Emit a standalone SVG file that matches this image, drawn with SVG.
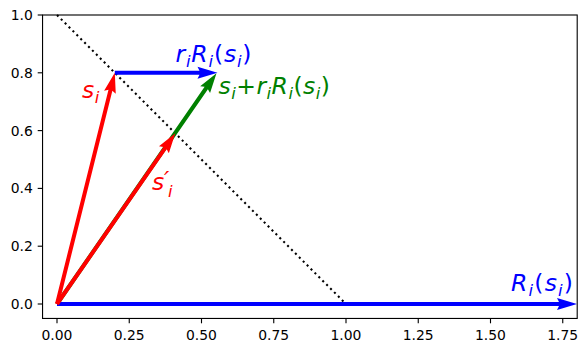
<svg xmlns="http://www.w3.org/2000/svg" width="588" height="352" viewBox="0 0 588 352">
<style>
.tick{stroke:#000;stroke-width:1.11}
.tl{font-family:"DejaVu Sans",sans-serif;font-size:13.9px;fill:#000}
.lbl{font-family:"DejaVu Sans",sans-serif;font-size:23.5px;font-style:italic}
.sub{font-size:16.5px}
.up{font-style:normal}
.red{fill:#ff0000}
.blue{fill:#0000ff}
.green{fill:#008000}
</style>
<rect width="588" height="352" fill="#ffffff"/>
<g id="guide">
<line x1="57" y1="15" x2="346" y2="304" stroke="#000" stroke-width="2.08" stroke-dasharray="2.08 3.44"/>
</g>
<g id="connectors">
<polygon id="v-sum" class="green" points="55.36,302.86 204.62,86.86 200.18,86.23 216.5,73.2 210.06,93.05 207.91,89.14 58.65,305.14"/>
<polygon id="v-rR" class="blue" points="114.8,70.7 199.5,70.7 197.5,66.7 217.5,72.7 197.5,78.7 199.5,74.7 114.8,74.7"/>
<polygon id="v-R" class="blue" points="57,302 559,302 557,298 577,304 557,310 559,306 57,306"/>
<polygon id="v-sp" class="red" points="55.36,302.86 163.41,146.95 158.98,146.32 175.3,133.3 168.84,153.16 166.69,149.23 58.64,305.14"/>
<polygon id="v-s" class="red" points="55.06,303.52 108.49,89.80 104.12,90.77 114.8,72.8 115.76,93.68 112.37,90.77 58.94,304.49"/>
</g>
<g id="axes">
<rect x="42.55" y="15" width="534.65" height="303.45" fill="none" stroke="#000" stroke-width="1.11"/>
<g class="tick">
<line x1="57" y1="318.45" x2="57" y2="323.3"/>
<line x1="129.25" y1="318.45" x2="129.25" y2="323.3"/>
<line x1="201.5" y1="318.45" x2="201.5" y2="323.3"/>
<line x1="273.75" y1="318.45" x2="273.75" y2="323.3"/>
<line x1="346" y1="318.45" x2="346" y2="323.3"/>
<line x1="418.25" y1="318.45" x2="418.25" y2="323.3"/>
<line x1="490.5" y1="318.45" x2="490.5" y2="323.3"/>
<line x1="562.75" y1="318.45" x2="562.75" y2="323.3"/>
<line x1="37.7" y1="304" x2="42.55" y2="304"/>
<line x1="37.7" y1="246.2" x2="42.55" y2="246.2"/>
<line x1="37.7" y1="188.4" x2="42.55" y2="188.4"/>
<line x1="37.7" y1="130.6" x2="42.55" y2="130.6"/>
<line x1="37.7" y1="72.8" x2="42.55" y2="72.8"/>
<line x1="37.7" y1="15" x2="42.55" y2="15"/>
</g>
<g class="tl" text-anchor="middle">
<text x="57" y="339.5">0.00</text>
<text x="129.25" y="339.5">0.25</text>
<text x="201.5" y="339.5">0.50</text>
<text x="273.75" y="339.5">0.75</text>
<text x="346" y="339.5">1.00</text>
<text x="418.25" y="339.5">1.25</text>
<text x="490.5" y="339.5">1.50</text>
<text x="562.75" y="339.5">1.75</text>
</g>
<g class="tl" text-anchor="end">
<text x="32.8" y="309">0.0</text>
<text x="32.8" y="251.2">0.2</text>
<text x="32.8" y="193.4">0.4</text>
<text x="32.8" y="135.6">0.6</text>
<text x="32.8" y="77.8">0.8</text>
<text x="32.8" y="20">1.0</text>
</g>
</g>
<g id="labels">
<text id="lbl-s" class="lbl red" x="82" y="98">s<tspan class="sub" dx="0.5" dy="5">i</tspan></text>
<text id="lbl-rR" class="lbl blue" x="175.5" y="62" textLength="76" lengthAdjust="spacing">r<tspan class="sub" dy="5">i</tspan><tspan dy="-5">R</tspan><tspan class="sub" dy="5">i</tspan><tspan class="up" dy="-5">(</tspan>s<tspan class="sub" dy="5">i</tspan><tspan class="up" dy="-5">)</tspan></text>
<text id="lbl-sum" class="lbl green" x="218.5" y="94.3" textLength="111.5" lengthAdjust="spacing">s<tspan class="sub" dy="5">i</tspan><tspan class="up" dy="-5">+</tspan>r<tspan class="sub" dy="5">i</tspan><tspan dy="-5">R</tspan><tspan class="sub" dy="5">i</tspan><tspan class="up" dy="-5">(</tspan>s<tspan class="sub" dy="5">i</tspan><tspan class="up" dy="-5">)</tspan></text>
<text id="lbl-sp" class="lbl red" x="152" y="190">s<tspan x="164" y="188">′</tspan><tspan class="sub" x="168" y="196.5">i</tspan></text>
<text id="lbl-R" class="lbl blue" x="511" y="291" textLength="62" lengthAdjust="spacing">R<tspan class="sub" dy="5">i</tspan><tspan class="up" dy="-5">(</tspan>s<tspan class="sub" dy="5">i</tspan><tspan class="up" dy="-5">)</tspan></text>
</g>
</svg>
